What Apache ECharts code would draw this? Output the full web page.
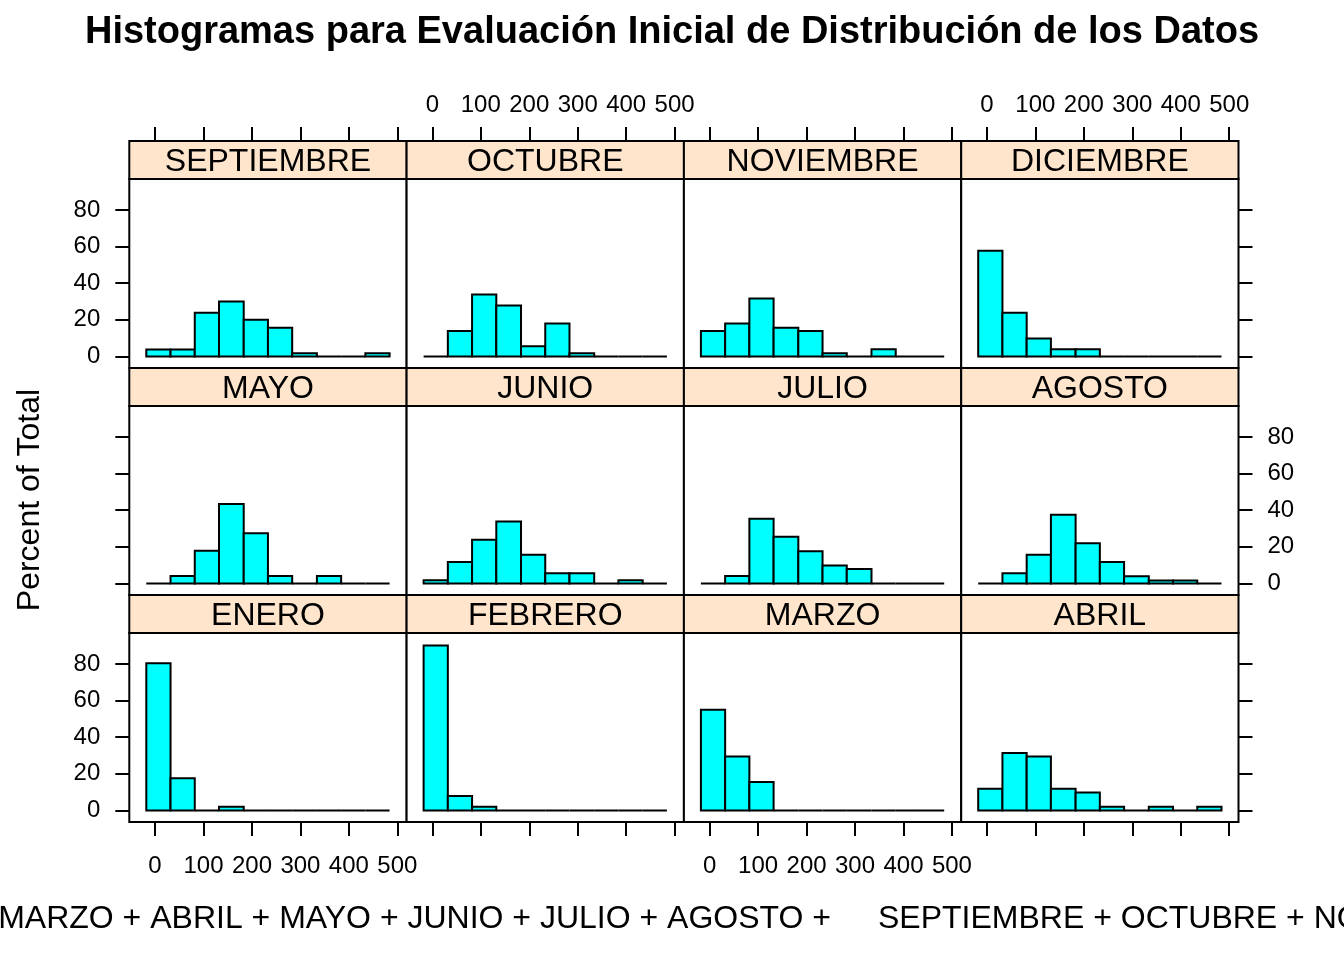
<!DOCTYPE html>
<html>
<head>
<meta charset="utf-8">
<title>Histogramas</title>
<script src="https://cdn.jsdelivr.net/npm/echarts@6.0.0/dist/echarts.min.js"></script>
<style>
  html, body { margin: 0; padding: 0; background: #fff; }
  #main { width: 1344px; height: 960px; }
</style>
</head>
<body>
<div id="main"></div>
<script>
// datos: porcentaje por intervalo (10 intervalos) para cada mes
var meses = ["ENERO", "FEBRERO", "MARZO", "ABRIL", "MAYO", "JUNIO",
  "JULIO", "AGOSTO", "SEPTIEMBRE", "OCTUBRE", "NOVIEMBRE", "DICIEMBRE"];
var cortes = [-18, 32, 82, 132, 183, 233, 283, 334, 384, 434, 484];
var enero = [80.4, 17.6, 0, 2.0, 0, 0, 0, 0, 0, 0];
var febrero = [90.2, 7.8, 2.0, 0, 0, 0, 0, 0, 0, 0];
var marzo = [55.0, 29.5, 15.5, 0, 0, 0, 0, 0, 0, 0];
var abril = [11.8, 31.4, 29.4, 11.8, 9.8, 2.0, 0, 2.0, 0, 2.0];
var mayo = [0, 4.0, 17.8, 43.4, 27.4, 4.0, 0, 4.0, 0, 0];
var junio = [1.7, 11.7, 23.8, 33.8, 15.6, 5.6, 5.6, 0, 1.7, 0];
var julio = [0, 4.0, 35.3, 25.5, 17.6, 9.8, 7.8, 0, 0, 0];
var agosto = [0, 5.5, 15.6, 37.5, 21.9, 11.7, 3.9, 1.6, 1.6, 0];
var septiembre = [3.7, 3.7, 23.9, 30.0, 20.0, 15.6, 1.7, 0, 0, 1.7];
var octubre = [0, 13.9, 33.9, 27.8, 5.6, 18.0, 1.7, 0, 0, 0];
var noviembre = [13.9, 18.0, 31.7, 15.6, 13.9, 1.7, 0, 3.9, 0, 0];
var diciembre = [57.8, 23.9, 9.8, 3.9, 3.9, 0, 0, 0, 0, 0];
var xTicks = [0, 100, 200, 300, 400, 500];
var yTicks = [0, 20, 40, 60, 80];

(function() {
  var myChart = echarts.init(document.getElementById("main"));
  var valores = [enero, febrero, marzo, abril, mayo, junio,
    julio, agosto, septiembre, octubre, noviembre, diciembre];

  // geometria de los paneles
  var colLeft = [129.3, 406.6, 683.9, 961.2];
  var colW = 277.3;
  var stripTop = [141, 368, 595];
  var stripH = 38;
  var panelH = 189;
  var lw = 2;
  var font = "Liberation Sans, Arial, sans-serif";

  var grids = [], xAxes = [], yAxes = [], series = [], graphics = [];

  meses.forEach(function(mes, i) {
    var row = 2 - Math.floor(i / 4); // ENERO abajo a la izquierda
    var col = i % 4;
    var left = colLeft[col];
    var top = stripTop[row] + stripH;

    grids.push({
      left: left, top: top, width: colW, height: panelH,
      show: true, borderColor: "#000", borderWidth: lw, backgroundColor: "#fff"
    });

    var xShow = row !== 1;
    xAxes.push({
      gridIndex: i,
      type: "value",
      min: -53.1,
      max: 519.1,
      show: xShow,
      position: row === 0 ? "top" : "bottom",
      offset: row === 0 ? stripH : 0,
      axisLine: { show: false, onZero: false },
      axisTick: {
        show: true, length: 14, customValues: xTicks,
        lineStyle: { color: "#000", width: lw }
      },
      axisLabel: {
        show: (row === 0 && col % 2 === 1) || (row === 2 && col % 2 === 0),
        customValues: xTicks,
        margin: row === 0 ? 24 : 32,
        color: "#000", fontSize: 24, fontFamily: font
      },
      splitLine: { show: false }
    });

    var yShow = col === 0 || col === 3;
    yAxes.push({
      gridIndex: i,
      type: "value",
      min: -6.35,
      max: 97.0,
      show: yShow,
      position: col === 0 ? "left" : "right",
      axisLine: { show: false, onZero: false },
      axisTick: {
        show: true, length: 14, customValues: yTicks,
        lineStyle: { color: "#000", width: lw }
      },
      axisLabel: {
        show: (col === 0 && row !== 1) || (col === 3 && row === 1),
        customValues: yTicks,
        margin: 29,
        padding: [5, 0, 0, 0],
        color: "#000", fontSize: 24, fontFamily: font
      },
      splitLine: { show: false }
    });

    var datos = valores[i].map(function(v, k) {
      return [cortes[k], cortes[k + 1], v];
    });
    series.push({
      type: "custom",
      name: mes,
      xAxisIndex: i,
      yAxisIndex: i,
      encode: { x: [0, 1], y: 2 },
      data: datos,
      renderItem: function(params, api) {
        var p0 = api.coord([api.value(0), 0]);
        var p1 = api.coord([api.value(1), api.value(2)]);
        return {
          type: "rect",
          shape: { x: p0[0], y: p1[1], width: p1[0] - p0[0], height: p0[1] - p1[1] },
          style: { fill: "#00FFFF", stroke: "#000", lineWidth: lw }
        };
      }
    });

    // tira con el nombre del mes
    graphics.push({
      type: "rect",
      shape: { x: left, y: stripTop[row], width: colW, height: stripH },
      style: { fill: "#FFE5CC", stroke: "#000", lineWidth: lw },
      z: 10
    });
    graphics.push({
      type: "text",
      x: left + colW / 2,
      y: stripTop[row] + stripH / 2 + 2.5,
      style: {
        text: mes, fill: "#000", font: "32px " + font,
        align: "center", verticalAlign: "middle"
      },
      z: 11
    });
  });

  graphics.push({
    type: "text", x: 672, y: 33,
    style: {
      text: "Histogramas para Evaluación Inicial de Distribución de los Datos",
      fill: "#000", font: "bold 38px " + font, align: "center", verticalAlign: "middle"
    }
  });
  graphics.push({
    type: "text", x: 30, y: 500, rotation: Math.PI / 2,
    style: {
      text: "Percent of Total", fill: "#000", font: "32px " + font,
      align: "center", verticalAlign: "middle"
    }
  });
  graphics.push({
    type: "text", x: 831, y: 919,
    style: {
      text: "ENERO + FEBRERO + MARZO + ABRIL + MAYO + JUNIO + JULIO + AGOSTO +",
      fill: "#000", font: "32px " + font, align: "right", verticalAlign: "middle"
    }
  });
  graphics.push({
    type: "text", x: 878, y: 919,
    style: {
      text: "SEPTIEMBRE + OCTUBRE + NOVIEMBRE + DICIEMBRE",
      fill: "#000", font: "32px " + font, align: "left", verticalAlign: "middle"
    }
  });

  var option = {
    backgroundColor: "#fff",
    animation: false,
    grid: grids,
    xAxis: xAxes,
    yAxis: yAxes,
    series: series,
    graphic: graphics
  };

  myChart.setOption(option);
  window.addEventListener("resize", function() {
    myChart.resize();
  });
})();
</script>
</body>
</html>
